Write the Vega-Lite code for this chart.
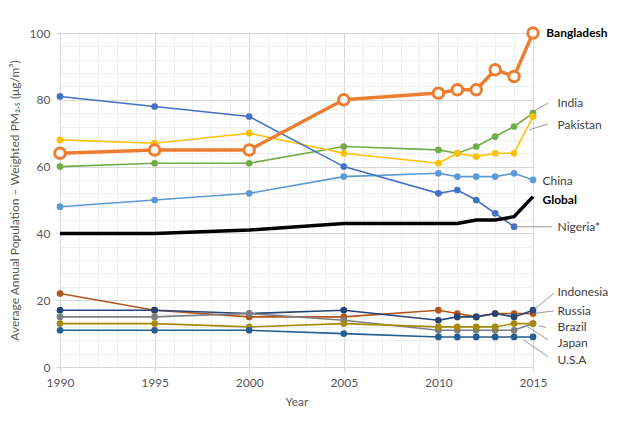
{
  "$schema": "https://vega.github.io/schema/vega-lite/v6.json",
  "width": 473,
  "height": 334,
  "autosize": {"type": "none"},
  "padding": {"left": 60, "top": 33, "right": 104, "bottom": 56},
  "background": "white",
  "config": {
    "view": {"stroke": null},
    "font": "Lato",
    "axis": {"labelFont": "Lato", "titleFont": "Lato", "labelColor": "#595959", "titleColor": "#595959", "labelFontSize": 12, "titleFontSize": 12, "titleFontWeight": "normal", "domain": false}
  },
  "datasets": {
    "series": [
      {"country": "Bangladesh", "year": 1990, "value": 64},
      {"country": "Bangladesh", "year": 1995, "value": 65},
      {"country": "Bangladesh", "year": 2000, "value": 65},
      {"country": "Bangladesh", "year": 2005, "value": 80},
      {"country": "Bangladesh", "year": 2010, "value": 82},
      {"country": "Bangladesh", "year": 2011, "value": 83},
      {"country": "Bangladesh", "year": 2012, "value": 83},
      {"country": "Bangladesh", "year": 2013, "value": 89},
      {"country": "Bangladesh", "year": 2014, "value": 87},
      {"country": "Bangladesh", "year": 2015, "value": 100},
      {"country": "India", "year": 1990, "value": 60},
      {"country": "India", "year": 1995, "value": 61},
      {"country": "India", "year": 2000, "value": 61},
      {"country": "India", "year": 2005, "value": 66},
      {"country": "India", "year": 2010, "value": 65},
      {"country": "India", "year": 2011, "value": 64},
      {"country": "India", "year": 2012, "value": 66},
      {"country": "India", "year": 2013, "value": 69},
      {"country": "India", "year": 2014, "value": 72},
      {"country": "India", "year": 2015, "value": 76},
      {"country": "Pakistan", "year": 1990, "value": 68},
      {"country": "Pakistan", "year": 1995, "value": 67},
      {"country": "Pakistan", "year": 2000, "value": 70},
      {"country": "Pakistan", "year": 2005, "value": 64},
      {"country": "Pakistan", "year": 2010, "value": 61},
      {"country": "Pakistan", "year": 2011, "value": 64},
      {"country": "Pakistan", "year": 2012, "value": 63},
      {"country": "Pakistan", "year": 2013, "value": 64},
      {"country": "Pakistan", "year": 2014, "value": 64},
      {"country": "Pakistan", "year": 2015, "value": 75},
      {"country": "China", "year": 1990, "value": 48},
      {"country": "China", "year": 1995, "value": 50},
      {"country": "China", "year": 2000, "value": 52},
      {"country": "China", "year": 2005, "value": 57},
      {"country": "China", "year": 2010, "value": 58},
      {"country": "China", "year": 2011, "value": 57},
      {"country": "China", "year": 2012, "value": 57},
      {"country": "China", "year": 2013, "value": 57},
      {"country": "China", "year": 2014, "value": 58},
      {"country": "China", "year": 2015, "value": 56},
      {"country": "Nigeria*", "year": 1990, "value": 81},
      {"country": "Nigeria*", "year": 1995, "value": 78},
      {"country": "Nigeria*", "year": 2000, "value": 75},
      {"country": "Nigeria*", "year": 2005, "value": 60},
      {"country": "Nigeria*", "year": 2010, "value": 52},
      {"country": "Nigeria*", "year": 2011, "value": 53},
      {"country": "Nigeria*", "year": 2012, "value": 50},
      {"country": "Nigeria*", "year": 2013, "value": 46},
      {"country": "Nigeria*", "year": 2014, "value": 42},
      {"country": "Global", "year": 1990, "value": 40},
      {"country": "Global", "year": 1995, "value": 40},
      {"country": "Global", "year": 2000, "value": 41},
      {"country": "Global", "year": 2005, "value": 43},
      {"country": "Global", "year": 2010, "value": 43},
      {"country": "Global", "year": 2011, "value": 43},
      {"country": "Global", "year": 2012, "value": 44},
      {"country": "Global", "year": 2013, "value": 44},
      {"country": "Global", "year": 2014, "value": 45},
      {"country": "Global", "year": 2015, "value": 51},
      {"country": "Russia", "year": 1990, "value": 22},
      {"country": "Russia", "year": 1995, "value": 17},
      {"country": "Russia", "year": 2000, "value": 15},
      {"country": "Russia", "year": 2005, "value": 15},
      {"country": "Russia", "year": 2010, "value": 17},
      {"country": "Russia", "year": 2011, "value": 16},
      {"country": "Russia", "year": 2012, "value": 15},
      {"country": "Russia", "year": 2013, "value": 16},
      {"country": "Russia", "year": 2014, "value": 16},
      {"country": "Russia", "year": 2015, "value": 16},
      {"country": "Indonesia", "year": 1990, "value": 17},
      {"country": "Indonesia", "year": 1995, "value": 17},
      {"country": "Indonesia", "year": 2000, "value": 16},
      {"country": "Indonesia", "year": 2005, "value": 17},
      {"country": "Indonesia", "year": 2010, "value": 14},
      {"country": "Indonesia", "year": 2011, "value": 15},
      {"country": "Indonesia", "year": 2012, "value": 15},
      {"country": "Indonesia", "year": 2013, "value": 16},
      {"country": "Indonesia", "year": 2014, "value": 15},
      {"country": "Indonesia", "year": 2015, "value": 17},
      {"country": "Japan", "year": 1990, "value": 15},
      {"country": "Japan", "year": 1995, "value": 15},
      {"country": "Japan", "year": 2000, "value": 16},
      {"country": "Japan", "year": 2005, "value": 14},
      {"country": "Japan", "year": 2010, "value": 11},
      {"country": "Japan", "year": 2011, "value": 11},
      {"country": "Japan", "year": 2012, "value": 11},
      {"country": "Japan", "year": 2013, "value": 11},
      {"country": "Japan", "year": 2014, "value": 11},
      {"country": "Japan", "year": 2015, "value": 13},
      {"country": "Brazil", "year": 1990, "value": 13},
      {"country": "Brazil", "year": 1995, "value": 13},
      {"country": "Brazil", "year": 2000, "value": 12},
      {"country": "Brazil", "year": 2005, "value": 13},
      {"country": "Brazil", "year": 2010, "value": 12},
      {"country": "Brazil", "year": 2011, "value": 12},
      {"country": "Brazil", "year": 2012, "value": 12},
      {"country": "Brazil", "year": 2013, "value": 12},
      {"country": "Brazil", "year": 2014, "value": 13},
      {"country": "Brazil", "year": 2015, "value": 13},
      {"country": "U.S.A", "year": 1990, "value": 11},
      {"country": "U.S.A", "year": 1995, "value": 11},
      {"country": "U.S.A", "year": 2000, "value": 11},
      {"country": "U.S.A", "year": 2005, "value": 10},
      {"country": "U.S.A", "year": 2010, "value": 9},
      {"country": "U.S.A", "year": 2011, "value": 9},
      {"country": "U.S.A", "year": 2012, "value": 9},
      {"country": "U.S.A", "year": 2013, "value": 9},
      {"country": "U.S.A", "year": 2014, "value": 9},
      {"country": "U.S.A", "year": 2015, "value": 9}
    ],
    "labels": [
      {"country": "Bangladesh", "lx": 2015.7, "ly": 100},
      {"country": "India", "lx": 2016.3, "ly": 79},
      {"country": "Pakistan", "lx": 2016.3, "ly": 72.5},
      {"country": "China", "lx": 2015.5, "ly": 55.7},
      {"country": "Global", "lx": 2015.5, "ly": 50},
      {"country": "Nigeria*", "lx": 2016.3, "ly": 42},
      {"country": "Indonesia", "lx": 2016.3, "ly": 22.5},
      {"country": "Russia", "lx": 2016.3, "ly": 16.8},
      {"country": "Brazil", "lx": 2016.3, "ly": 12},
      {"country": "Japan", "lx": 2016.3, "ly": 7.2},
      {"country": "U.S.A", "lx": 2016.3, "ly": 2.1}
    ],
    "leaders": [
      {"country": "India", "x1": 2015.05, "y1": 76.6, "x2": 2015.8, "y2": 79},
      {"country": "Pakistan", "x1": 2014.8, "y1": 71, "x2": 2015.8, "y2": 72.8},
      {"country": "Nigeria*", "x1": 2014, "y1": 42, "x2": 2016, "y2": 42},
      {"country": "Indonesia", "x1": 2015, "y1": 17, "x2": 2016.1, "y2": 22},
      {"country": "Russia", "x1": 2015, "y1": 16, "x2": 2016.1, "y2": 16.8},
      {"country": "Brazil", "x1": 2015.3, "y1": 12.4, "x2": 2015.7, "y2": 11.8},
      {"country": "Japan", "x1": 2014.7, "y1": 12.1, "x2": 2015.8, "y2": 8.1},
      {"country": "U.S.A", "x1": 2014.5, "y1": 8.1, "x2": 2015.8, "y2": 3.1}
    ]
  },
  "resolve": {"axis": {"x": "independent", "y": "independent"}},
  "layer": [
    {
      "data": {"name": "series"},
      "transform": [{"filter": "datum.country !== 'Bangladesh' && datum.country !== 'Global'"}],
      "mark": {"type": "line", "strokeWidth": 1.6, "point": {"filled": true, "size": 45}},
      "encoding": {
        "x": {"field": "year", "type": "quantitative",
          "scale": {"domain": [1990, 2015], "nice": false, "zero": false},
          "axis": {"orient": "bottom", "title": "Year", "values": [1990, 1995, 2000, 2005, 2010, 2015],
            "format": "d", "grid": true, "gridColor": "#d9d9d9", "tickColor": "#d9d9d9",
            "tickSize": 4, "labelPadding": 6, "titlePadding": 8, "labelFlush": false, "zindex": 0}},
        "y": {"field": "value", "type": "quantitative",
          "scale": {"domain": [0, 100], "nice": false},
          "axis": {"orient": "left", "title": "Average Annual Population – Weighted PM₂.₅ (μg/m³)",
            "values": [0, 20, 40, 60, 80, 100],
            "grid": true, "gridColor": "#d9d9d9", "tickColor": "#d9d9d9",
            "tickSize": 4, "labelPadding": 6, "titlePadding": 8, "zindex": 0}},
        "color": {"field": "country", "type": "nominal", "legend": null,
          "scale": {"domain": ["Bangladesh","India","Pakistan","China","Nigeria*","Global","Russia","Indonesia","Japan","Brazil","U.S.A"],
            "range": ["#ED7D31","#70AD47","#FFC000","#5B9BD5","#4472C4","#000000","#B4561C","#264478","#7F7F7F","#A58A0C","#255E91"]}}
      }
    },
    {
      "data": {"name": "series"},
      "transform": [{"filter": "datum.country === 'Global'"}],
      "mark": {"type": "line", "strokeWidth": 3.5, "color": "#000000"},
      "encoding": {
        "x": {"field": "year", "type": "quantitative",
          "axis": {"orient": "bottom", "title": null, "labels": false, "ticks": false, "domain": false,
            "values": [1991,1992,1993,1994,1996,1997,1998,1999,2001,2002,2003,2004,2006,2007,2008,2009,2011,2012,2013,2014],
            "grid": true, "gridColor": "#efefef", "zindex": 0}},
        "y": {"field": "value", "type": "quantitative",
          "axis": {"orient": "left", "title": null, "labels": false, "ticks": false, "domain": false,
            "values": [4,8,12,16,24,28,32,36,44,48,52,56,64,68,72,76,84,88,92,96],
            "grid": true, "gridColor": "#efefef", "zindex": 0}}
      }
    },
    {
      "data": {"name": "series"},
      "transform": [{"filter": "datum.country === 'Bangladesh'"}],
      "mark": {"type": "line", "strokeWidth": 3.5, "color": "#ED7D31", "point": {"filled": true, "fill": "white", "stroke": "#ED7D31", "strokeWidth": 3, "size": 110}},
      "encoding": {
        "x": {"field": "year", "type": "quantitative", "axis": null},
        "y": {"field": "value", "type": "quantitative", "axis": null}
      }
    },
    {
      "data": {"name": "leaders"},
      "mark": {"type": "rule", "color": "#7F7F7F", "strokeWidth": 0.8},
      "encoding": {
        "x": {"field": "x1", "type": "quantitative", "axis": null},
        "x2": {"field": "x2"},
        "y": {"field": "y1", "type": "quantitative", "axis": null},
        "y2": {"field": "y2"}
      }
    },
    {
      "data": {"name": "labels"},
      "transform": [{"filter": "datum.country !== 'Bangladesh' && datum.country !== 'Global'"}],
      "mark": {"type": "text", "align": "left", "baseline": "middle", "fontSize": 12, "color": "#404040", "font": "Lato"},
      "encoding": {
        "x": {"field": "lx", "type": "quantitative", "axis": null},
        "y": {"field": "ly", "type": "quantitative", "axis": null},
        "text": {"field": "country"}
      }
    },
    {
      "data": {"name": "labels"},
      "transform": [{"filter": "datum.country === 'Bangladesh' || datum.country === 'Global'"}],
      "mark": {"type": "text", "align": "left", "baseline": "middle", "fontSize": 12, "fontWeight": "bold", "color": "#000000", "font": "Lato"},
      "encoding": {
        "x": {"field": "lx", "type": "quantitative", "axis": null},
        "y": {"field": "ly", "type": "quantitative", "axis": null},
        "text": {"field": "country"}
      }
    }
  ]
}
